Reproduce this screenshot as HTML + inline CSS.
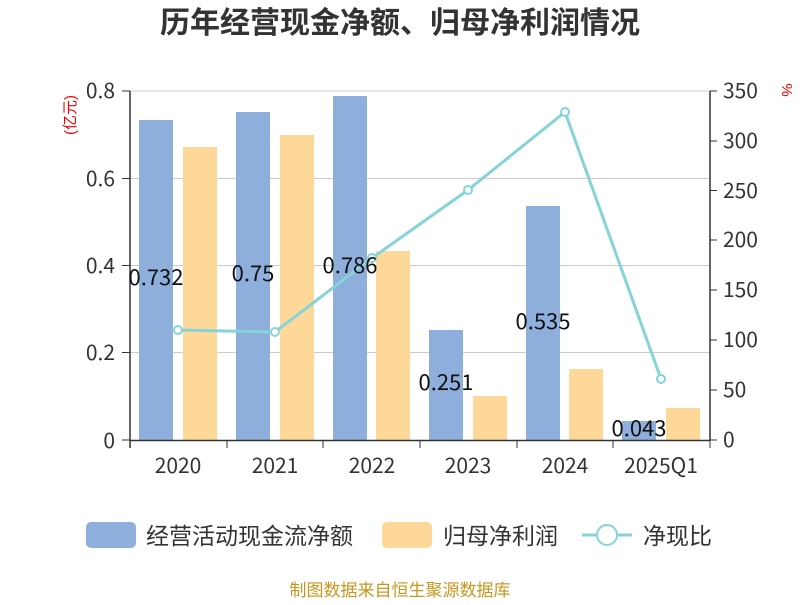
<!DOCTYPE html>
<html><head><meta charset="utf-8"><style>
body{margin:0;background:#fff;}
svg text{font-family:"Liberation Sans","Noto Sans CJK SC",sans-serif;}
.n{font-family:"Noto Sans CJK SC","Liberation Sans",sans-serif;}
</style></head><body>
<svg width="800" height="600" xmlns="http://www.w3.org/2000/svg">
<rect width="800" height="600" fill="#fff"/>
<text x="400" y="33" text-anchor="middle" font-size="30" font-weight="bold" fill="#333">历年经营现金净额、归母净利润情况</text>
<g stroke="#ccc" stroke-width="1">
<line x1="130" y1="91" x2="710" y2="91"/>
<line x1="130" y1="178.5" x2="710" y2="178.5"/>
<line x1="130" y1="265.5" x2="710" y2="265.5"/>
<line x1="130" y1="352.5" x2="710" y2="352.5"/>
</g>
<g fill="#8eaedb">
<rect x="139" y="120" width="34" height="320"/>
<rect x="236" y="112" width="34" height="328"/>
<rect x="333" y="96" width="34" height="344"/>
<rect x="429" y="330" width="34" height="110"/>
<rect x="526" y="206" width="34" height="234"/>
<rect x="622" y="421" width="34" height="19"/>
</g>
<g fill="#fed899">
<rect x="183" y="147" width="34" height="293"/>
<rect x="280" y="135" width="34" height="305"/>
<rect x="376" y="251" width="34" height="189"/>
<rect x="473" y="396" width="34" height="44"/>
<rect x="569" y="369" width="34" height="71"/>
<rect x="666" y="408" width="34" height="32"/>
</g>
<g stroke="#333" stroke-width="1.5">
<line x1="130" y1="91" x2="130" y2="448"/>
<line x1="710" y1="91" x2="710" y2="440"/>
<line x1="130" y1="440.5" x2="710" y2="440.5"/>
</g>
<g stroke="#333" stroke-width="1">
<line x1="122" y1="91" x2="130" y2="91"/><line x1="122" y1="178.5" x2="130" y2="178.5"/><line x1="122" y1="265.5" x2="130" y2="265.5"/><line x1="122" y1="352.5" x2="130" y2="352.5"/><line x1="122" y1="440" x2="130" y2="440"/>
<line x1="227" y1="440" x2="227" y2="448"/><line x1="323" y1="440" x2="323" y2="448"/><line x1="420" y1="440" x2="420" y2="448"/><line x1="517" y1="440" x2="517" y2="448"/><line x1="613" y1="440" x2="613" y2="448"/><line x1="710" y1="440" x2="710" y2="448"/>
<line x1="710" y1="91" x2="717" y2="91"/><line x1="710" y1="141" x2="717" y2="141"/><line x1="710" y1="190.5" x2="717" y2="190.5"/><line x1="710" y1="240" x2="717" y2="240"/><line x1="710" y1="290" x2="717" y2="290"/><line x1="710" y1="340" x2="717" y2="340"/><line x1="710" y1="390" x2="717" y2="390"/><line x1="710" y1="440" x2="717" y2="440"/>
</g>
<g font-size="21" fill="#333" text-anchor="end" class="n">
<text class="n" x="115" y="98">0.8</text><text class="n" x="115" y="186">0.6</text><text class="n" x="115" y="273">0.4</text><text class="n" x="115" y="360">0.2</text><text class="n" x="115" y="448">0</text>
</g>
<g font-size="21" fill="#333" text-anchor="start">
<text class="n" x="723" y="98">350</text><text class="n" x="723" y="148">300</text><text class="n" x="723" y="198">250</text><text class="n" x="723" y="247">200</text><text class="n" x="723" y="297">150</text><text class="n" x="723" y="347">100</text><text class="n" x="723" y="397">50</text><text class="n" x="723" y="447">0</text>
</g>
<g font-size="21" fill="#333" text-anchor="middle">
<text class="n" x="178" y="473">2020</text><text class="n" x="275" y="473">2021</text><text class="n" x="372" y="473">2022</text><text class="n" x="468" y="473">2023</text><text class="n" x="565" y="473">2024</text><text class="n" x="661" y="473">2025Q1</text>
</g>
<text transform="translate(75,115) rotate(-90)" font-size="15" fill="#e00" text-anchor="middle">(亿元)</text>
<text transform="translate(782,90) rotate(90)" font-size="15" fill="#e00" text-anchor="middle">%</text>
<polyline points="178,330 275,332 372,258 468,190 565,112 661,379" fill="none" stroke="#86d4d8" stroke-width="3"/>
<g fill="#fff" stroke="#86d4d8" stroke-width="2">
<circle cx="178" cy="330" r="4"/><circle cx="275" cy="332" r="4"/><circle cx="372" cy="258" r="4"/><circle cx="468" cy="190" r="4"/><circle cx="565" cy="112" r="4"/><circle cx="661" cy="379" r="4"/>
</g>
<g font-size="22" fill="#111" text-anchor="middle">
<text class="n" x="156" y="285">0.732</text><text class="n" x="253" y="281">0.75</text><text class="n" x="350" y="273">0.786</text><text class="n" x="446" y="390">0.251</text><text class="n" x="543" y="329">0.535</text><text class="n" x="639" y="436">0.043</text>
</g>
<rect x="86" y="522" width="50" height="26" rx="5" fill="#8eaedb"/>
<text x="146" y="544" font-size="23" fill="#333">经营活动现金流净额</text>
<rect x="382" y="522" width="50" height="26" rx="5" fill="#fed899"/>
<text x="443" y="544" font-size="23" fill="#333">归母净利润</text>
<line x1="582" y1="535" x2="632" y2="535" stroke="#86d4d8" stroke-width="3"/>
<circle cx="607" cy="535" r="10" fill="#fff" stroke="#86d4d8" stroke-width="2"/>
<text x="643" y="544" font-size="23" fill="#333">净现比</text>
<text x="400" y="596" font-size="17" fill="#c8961e" text-anchor="middle">制图数据来自恒生聚源数据库</text>
</svg>
</body></html>
